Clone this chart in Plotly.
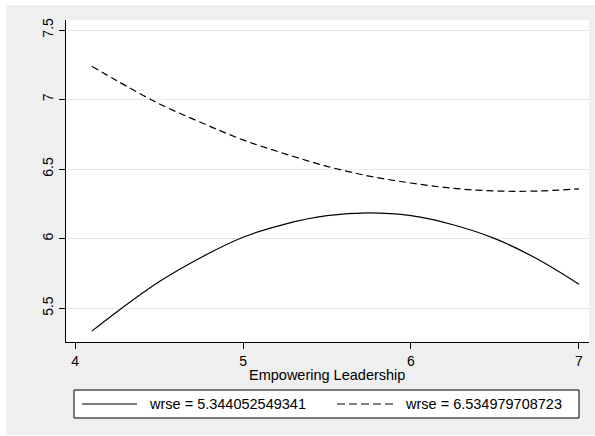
import plotly.graph_objects as go

# ---- data ----
x_vals = [4.1, 4.25, 4.5, 4.75, 5.0, 5.25, 5.5, 5.75, 6.0, 6.25, 6.5, 6.75, 7.0]
y_low = [5.335, 5.475, 5.69, 5.865, 6.01, 6.105, 6.165, 6.185, 6.165, 6.10, 6.00, 5.855, 5.672]
y_high = [7.24, 7.135, 6.97, 6.835, 6.71, 6.61, 6.52, 6.45, 6.40, 6.362, 6.343, 6.342, 6.358]
series_names = ["wrse = 5.344052549341", "wrse = 6.534979708723"]
x_ticks = [4, 5, 6, 7]
y_ticks = [5.5, 6, 6.5, 7, 7.5]
y_tick_text = ["5.5", "6", "6.5", "7", "7.5"]
x_title = "Empowering Leadership"

# ---- layout geometry (pixels) ----
W, H = 595, 436
L, R, T, B = 66, 6, 20, 94
pw, ph = W - L - R, H - T - B


def px(x):
    return (x - L) / pw


def py(y):
    return (H - B - y) / ph


FONT = "Liberation Sans, Arial, Helvetica, sans-serif"
GRAY_BG = "#efefef"

fig = go.Figure()
fig.add_trace(go.Scatter(x=x_vals, y=y_low, mode="lines", name=series_names[0],
                         line=dict(color="black", width=1.2, shape="spline"),
                         showlegend=False))
fig.add_trace(go.Scatter(x=x_vals, y=y_high, mode="lines", name=series_names[1],
                         line=dict(color="black", width=1.2, dash="7px,4px", shape="spline"),
                         showlegend=False))

shapes = [
    # outer graph region
    dict(type="rect", xref="paper", yref="paper", x0=px(6), x1=px(595), y0=py(435), y1=py(5),
         fillcolor=GRAY_BG, line=dict(width=0), layer="below"),
    # plot region
    dict(type="rect", xref="paper", yref="paper", x0=0, x1=1, y0=0, y1=1,
         fillcolor="white", line=dict(width=0), layer="below"),
    # legend box
    dict(type="rect", xref="paper", yref="paper", x0=px(74), x1=px(579), y0=py(418), y1=py(390),
         fillcolor="white", line=dict(color="black", width=1)),
    dict(type="line", xref="paper", yref="paper", x0=px(82), x1=px(137), y0=py(404), y1=py(404),
         line=dict(color="black", width=1.2)),
    dict(type="line", xref="paper", yref="paper", x0=px(337), x1=px(393), y0=py(404), y1=py(404),
         line=dict(color="black", width=1.2, dash="8px,4px")),
]

annotations = [
    dict(x=px(147), y=py(404), xref="paper", yref="paper", text=series_names[0],
         showarrow=False, xanchor="left", yanchor="middle", font=dict(size=14.5, color="black", family=FONT)),
    dict(x=px(403), y=py(404), xref="paper", yref="paper", text=series_names[1],
         showarrow=False, xanchor="left", yanchor="middle", font=dict(size=14.5, color="black", family=FONT)),
    dict(x=px(327), y=py(375), xref="paper", yref="paper", text=x_title,
         showarrow=False, xanchor="center", yanchor="middle", font=dict(size=14.5, color="black", family=FONT)),
]

fig.update_layout(
    width=W, height=H,
    margin=dict(l=L, r=R, t=T, b=B, pad=0),
    paper_bgcolor="white",
    plot_bgcolor="white",
    font=dict(family=FONT, size=14, color="black"),
    shapes=shapes,
    annotations=annotations,
    showlegend=False,
)
fig.update_xaxes(range=[3.946, 7.06], tickvals=x_ticks, ticktext=[str(v) for v in x_ticks],
                 showgrid=False, zeroline=False, showline=True, linecolor="black", linewidth=1,
                 ticks="outside", ticklen=6, tickcolor="black", tickwidth=1,
                 tickfont=dict(size=14, family=FONT, color="black"))
fig.update_yaxes(range=[5.257, 7.572], tickvals=y_ticks, ticktext=y_tick_text,
                 showgrid=True, gridcolor="#e8e8e8", gridwidth=1, zeroline=False,
                 showline=True, linecolor="black", linewidth=1,
                 ticks="outside", ticklen=6, tickcolor="black", tickwidth=1, tickangle=-90,
                 tickfont=dict(size=14, family=FONT, color="black"))

fig.write_html("out.html")
